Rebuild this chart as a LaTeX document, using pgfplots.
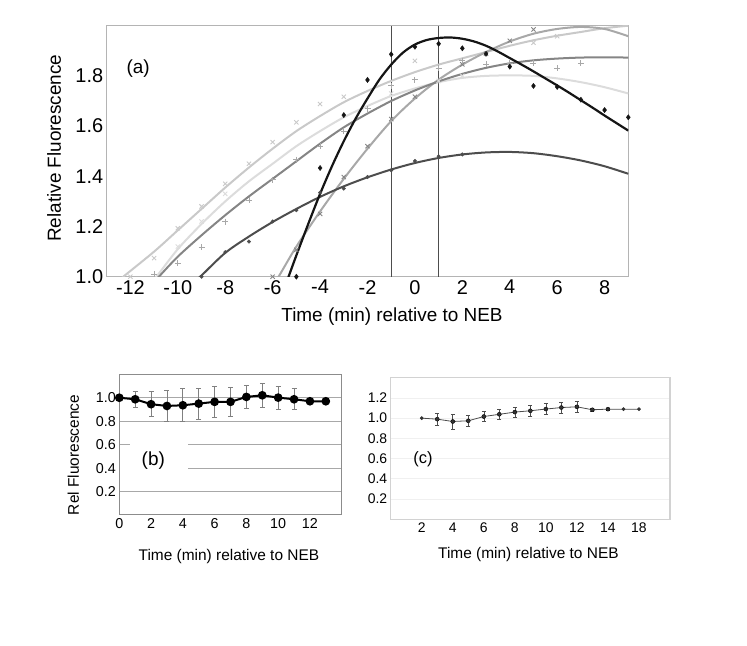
\documentclass[border=0pt]{standalone}
\usepackage{pgfplots}
\pgfplotsset{compat=1.18}
\usepackage{fontspec}
\setmainfont{Liberation Sans}
\definecolor{cBlack}{HTML}{151515}
\definecolor{cDark}{HTML}{4d4d4d}
\definecolor{cMed}{HTML}{858585}
\definecolor{cMedL}{HTML}{a8a8a8}
\definecolor{cLight}{HTML}{c9c9c9}
\definecolor{cLightest}{HTML}{dcdcdc}
\definecolor{frameA}{HTML}{b4b4b4}
\definecolor{frameB}{HTML}{8c8c8c}
\definecolor{gridB}{HTML}{a8a8a8}
\definecolor{frameC}{HTML}{d2d2d2}
\definecolor{gridC}{HTML}{f0f0f0}
\begin{document}
\begin{tikzpicture}
\path[use as bounding box] (0,0) rectangle (747bp,646bp);

% ---------------- panel (a) ----------------
\begin{axis}[
  at={(106.7bp,369.3bp)}, anchor=south west,
  scale only axis, width=521.6bp, height=251bp,
  xmin=-13, xmax=9, ymin=1, ymax=2,
  xtick={-12,-10,...,8}, xticklabels={-12,-10,-8,-6,-4,-2,0,2,4,6,8},
  ytick={1,1.2,1.4,1.6,1.8}, yticklabels={1.0,1.2,1.4,1.6,1.8},
  major tick length=0,
  axis line style={draw=frameA, line width=1.3bp},
  tick label style={font=\fontsize{20}{24}\selectfont},
  xlabel={Time (min) relative to NEB},
  ylabel={Relative Fluorescence},
  label style={font=\fontsize{19}{22}\selectfont},
  xlabel style={at={(axis description cs:0.547,-0.16)}, anchor=center},
  ylabel style={at={(axis description cs:-0.101,0.512)}, anchor=center, rotate=0},
]
\addplot[color=cDark, line width=0.8bp, forget plot] coordinates {(-1,1) (-1,2)};
\addplot[color=cDark, line width=0.8bp, forget plot] coordinates {(1,1) (1,2)};
% S5 lightest
\addplot[color=cLightest, line width=2bp, smooth, no marks] coordinates {
(-11,0.99) (-10.9,1.0) (-10,1.11) (-9,1.21) (-8,1.30) (-7,1.38) (-6,1.45) (-5,1.52) (-4,1.58) (-3,1.635) (-2,1.68) (-1,1.72) (0,1.75) (1,1.775) (2,1.792) (3,1.80) (4,1.802) (5,1.80) (6,1.79) (7,1.775) (8,1.755) (9,1.73)};
\addplot[only marks, mark=x, mark size=3bp, color=cLightest, line width=0.9bp] coordinates {
(-10,1.12) (-9,1.22) (-8,1.33) (-1,1.73) (1,1.78) (2,1.80)};
% S4 light
\addplot[color=cLight, line width=2bp, smooth, no marks] coordinates {
(-12.4,0.99) (-12.3,1.0) (-11,1.10) (-10,1.185) (-9,1.27) (-8,1.355) (-7,1.435) (-6,1.51) (-5,1.58) (-4,1.64) (-3,1.695) (-2,1.74) (-1,1.78) (0,1.815) (1,1.845) (2,1.87) (3,1.895) (4,1.92) (5,1.942) (6,1.96) (7,1.975) (8,1.99) (9,2.0)};
\addplot[only marks, mark=x, mark size=3bp, color=cLight, line width=0.9bp] coordinates {
(-12,1.0) (-11,1.074) (-10,1.193) (-9,1.28) (-8,1.37) (-7,1.45) (-6,1.536) (-5,1.615) (-4,1.688) (-3,1.717) (0,1.86) (5,1.932) (6,1.958)};
% S6 medium-light steep
\addplot[color=cMedL, line width=2bp, smooth, no marks] coordinates {
(-5.85,0.99) (-5.75,1.0) (-5,1.12) (-4,1.26) (-3,1.39) (-2,1.51) (-1,1.62) (0,1.71) (1,1.785) (2,1.845) (3,1.895) (4,1.937) (5,1.968) (6,1.987) (7,1.995) (8,1.987) (9,1.958)};
\addplot[only marks, mark=x, mark size=3bp, color=cMed, line width=0.9bp] coordinates {
(-6,1.0) (-5,1.107) (-4,1.25) (-3,1.397) (-2,1.52) (-1,1.628) (0,1.717) (2,1.846) (3,1.888) (4,1.94) (5,1.985)};
% S3 medium
\addplot[color=cMed, line width=2bp, smooth, no marks] coordinates {
(-10.9,0.99) (-10.8,1.0) (-10,1.08) (-9,1.165) (-8,1.245) (-7,1.32) (-6,1.39) (-5,1.46) (-4,1.53) (-3,1.595) (-2,1.65) (-1,1.70) (0,1.742) (1,1.778) (2,1.808) (3,1.832) (4,1.85) (5,1.862) (6,1.869) (7,1.873) (8,1.874) (9,1.873)};
\addplot[only marks, mark=+, mark size=3bp, color=cMedL, line width=0.9bp] coordinates {
(-11,1.01) (-10,1.054) (-9,1.118) (-8,1.219) (-7,1.305) (-6,1.387) (-5,1.466) (-4,1.519) (-3,1.58) (-2,1.67) (-1,1.76) (0,1.784) (1,1.83) (2,1.86) (3,1.846) (4,1.85) (5,1.85) (6,1.83) (7,1.85)};
% S2 dark
\addplot[color=cDark, line width=2bp, smooth, no marks] coordinates {
(-9.2,0.99) (-9,1.005) (-8,1.095) (-7,1.16) (-6,1.218) (-5,1.27) (-4,1.318) (-3,1.36) (-2,1.396) (-1,1.427) (0,1.453) (1,1.473) (2,1.487) (3,1.495) (4,1.497) (5,1.492) (6,1.48) (7,1.463) (8,1.44) (9,1.41)};
\addplot[only marks, mark=*, mark size=1.8bp, color=cDark] coordinates {
(-9,1.0) (-8,1.098) (-7,1.14) (-6,1.22) (-5,1.265) (-4,1.335) (-3,1.351) (-2,1.397) (-1,1.424) (0,1.461) (1,1.48) (2,1.487)};
% S1 black
\addplot[color=cBlack, line width=2.2bp, smooth, no marks] coordinates {
(-5.45,0.97) (-5.33,1.0) (-5,1.085) (-4.5,1.21) (-4,1.33) (-3.5,1.44) (-3,1.54) (-2.5,1.63) (-2,1.71) (-1.5,1.785) (-1,1.845) (-0.5,1.893) (0,1.925) (0.5,1.943) (1,1.951) (1.5,1.953) (2,1.948) (2.5,1.937) (3,1.92) (3.5,1.897) (4,1.871) (4.5,1.845) (5,1.818) (5.5,1.79) (6,1.762) (6.5,1.733) (7,1.703) (7.5,1.673) (8,1.642) (8.5,1.612) (9,1.582)};
\addplot[only marks, mark=diamond*, mark size=2.6bp, color=cBlack] coordinates {
(-5,1.0) (-4,1.433) (-3,1.644) (-2,1.784) (-1,1.886) (0,1.916) (1,1.928) (2,1.91) (3,1.888) (4,1.837) (5,1.76) (6,1.756) (7,1.705) (8,1.664) (9,1.635)};
\node[font=\fontsize{19}{22}\selectfont] at (axis cs:-11.67,1.83) {(a)};
\end{axis}

% ---------------- panel (b) ----------------
\begin{axis}[
  at={(119.3bp,131bp)}, anchor=south west,
  scale only axis, width=222.4bp, height=140.7bp,
  xmin=0, xmax=14, ymin=0, ymax=1.2,
  xtick={0,2,...,12}, xticklabels={0,2,4,6,8,10,12},
  ytick={0.2,0.4,0.6,0.8,1.0}, yticklabels={0.2,0.4,0.6,0.8,1.0},
  major tick length=0,
  ymajorgrids, grid style={draw=gridB, line width=0.8bp},
  axis line style={draw=frameB, line width=1bp},
  tick label style={font=\fontsize{14.4}{17}\selectfont},
  xlabel={Time (min) relative to NEB},
  ylabel={Rel Fluorescence},
  label style={font=\fontsize{15.5}{18}\selectfont},
  xlabel style={at={(axis description cs:0.493,-0.296)}, anchor=center},
  ylabel style={at={(axis description cs:-0.207,0.426)}, anchor=center},
]
\fill[white] (axis cs:0.7,0.5) rectangle (axis cs:4.3,0.66);
\fill[white] (axis cs:0.05,0.33) rectangle (axis cs:4.3,0.5);
\addplot[only marks, mark=none, forget plot,
  error bars/.cd, y dir=both, y explicit,
  error bar style={color=gray, line width=0.7bp},
  error mark options={rotate=90, mark size=2.5bp, color=gray, line width=0.7bp}]
  coordinates {
  (1,0.987) +- (0,0.066) (2,0.945) +- (0,0.107) (3,0.93) +- (0,0.134) (4,0.936) +- (0,0.14)
  (5,0.95) +- (0,0.13) (6,0.965) +- (0,0.13) (7,0.965) +- (0,0.12) (8,1.007) +- (0,0.1)
  (9,1.021) +- (0,0.1) (10,1.001) +- (0,0.1) (11,0.987) +- (0,0.09)};
\addplot[color=black, line width=2bp, mark=*, mark size=3.3bp, mark options={fill=black}] coordinates {
(0,1.0) (1,0.987) (2,0.945) (3,0.93) (4,0.936) (5,0.95) (6,0.965) (7,0.965) (8,1.007) (9,1.021) (10,1.001) (11,0.987) (12,0.97) (13,0.97)};
\node[font=\fontsize{19}{22}\selectfont] at (axis cs:2.14,0.46) {(b)};
\end{axis}

% ---------------- panel (c) ----------------
\begin{axis}[
  at={(390.7bp,126.7bp)}, anchor=south west,
  scale only axis, width=279.3bp, height=141.6bp,
  xmin=0, xmax=18, ymin=0, ymax=1.4,
  xtick={2,4,...,16}, xticklabels={2,4,6,8,10,12,14,18},
  ytick={0.2,0.4,0.6,0.8,1.0,1.2}, yticklabels={0.2,0.4,0.6,0.8,1.0,1.2},
  major tick length=0,
  ymajorgrids, grid style={draw=gridC, line width=0.8bp},
  axis line style={draw=frameC, line width=1.2bp},
  tick label style={font=\fontsize{14}{17}\selectfont},
  xlabel={Time (min) relative to NEB},
  label style={font=\fontsize{15.5}{18}\selectfont},
  xlabel style={at={(axis description cs:0.493,-0.252)}, anchor=center},
]
\addplot[only marks, mark=none, forget plot,
  error bars/.cd, y dir=both, y explicit,
  error bar style={color=cDark, line width=0.6bp},
  error mark options={rotate=90, mark size=2bp, color=cDark, line width=0.6bp}]
  coordinates {
  (3,0.99) +- (0,0.06) (4,0.967) +- (0,0.073) (5,0.974) +- (0,0.053) (6,1.016) +- (0,0.05)
  (7,1.038) +- (0,0.047) (8,1.06) +- (0,0.047) (9,1.073) +- (0,0.05) (10,1.09) +- (0,0.052)
  (11,1.105) +- (0,0.055) (12,1.112) +- (0,0.058) (13,1.083) +- (0,0.017) (14,1.089) +- (0,0.012)};
\addplot[color=cDark, line width=0.8bp, mark=*, mark size=1.4bp, mark options={fill=black!80, draw=black!80}] coordinates {
(2,1.0) (3,0.99) (4,0.967) (5,0.974) (6,1.016) (7,1.038) (8,1.06) (9,1.073) (10,1.09) (11,1.105) (12,1.112) (13,1.083) (14,1.089) (15,1.089) (16,1.089)};
\node[font=\fontsize{16.5}{20}\selectfont] at (axis cs:2.08,0.597) {(c)};
\end{axis}
\end{tikzpicture}
\end{document}
